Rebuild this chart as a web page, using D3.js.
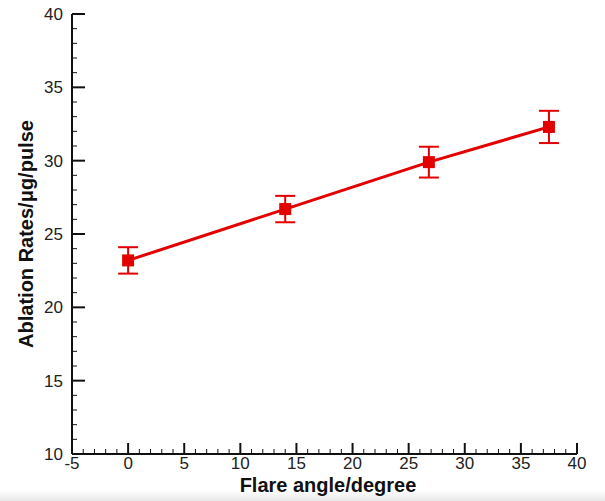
<!DOCTYPE html>
<html>
<head>
<meta charset="utf-8">
<script src="https://cdn.jsdelivr.net/npm/d3@7"></script>
<style>
  body { margin: 0; background: #fff; }
  svg { display: block; }
</style>
</head>
<body>
<svg id="chart" width="605" height="501"></svg>
<script>
// data
const flareAngle = [0, 14, 26.8, 37.5];
const ablationRate = [23.2, 26.7, 29.9, 32.3];
const rateError = [0.9, 0.9, 1.05, 1.1];
const xTicks = [-5, 0, 5, 10, 15, 20, 25, 30, 35, 40];
const yTicks = [10, 15, 20, 25, 30, 35, 40];

const svg = d3.select("#chart");
const red = "#e20000";

// faint grey band at the very bottom of the screenshot
const grad = svg.append("defs").append("linearGradient")
    .attr("id", "fade").attr("x1", 0).attr("y1", 0).attr("x2", 0).attr("y2", 1);
grad.append("stop").attr("offset", "0%").attr("stop-color", "#ffffff");
grad.append("stop").attr("offset", "100%").attr("stop-color", "#e8e8e8");
svg.append("rect").attr("x", 0).attr("y", 490).attr("width", 605).attr("height", 11)
    .attr("fill", "url(#fade)");

const x = d3.scaleLinear().domain([-5, 40]).range([72, 577]);
const y = d3.scaleLinear().domain([10, 40]).range([454, 14]);

// minor ticks every 1 unit
const xMinor = d3.range(-5, 41, 1).filter(v => v % 5 !== 0);
const yMinor = d3.range(10, 41, 1).filter(v => v % 5 !== 0);

const axes = svg.append("g").attr("stroke", "#111");

axes.selectAll("line.xminor").data(xMinor).enter().append("line")
    .attr("x1", d => x(d)).attr("x2", d => x(d))
    .attr("y1", y(10)).attr("y2", y(10) - 5).attr("stroke-width", 1);
axes.selectAll("line.xmajor").data(xTicks).enter().append("line")
    .attr("x1", d => x(d)).attr("x2", d => x(d))
    .attr("y1", y(10)).attr("y2", y(10) - 11).attr("stroke-width", 2);
axes.selectAll("line.yminor").data(yMinor).enter().append("line")
    .attr("y1", d => y(d)).attr("y2", d => y(d))
    .attr("x1", x(-5)).attr("x2", x(-5) + 5).attr("stroke-width", 1);
axes.selectAll("line.ymajor").data(yTicks).enter().append("line")
    .attr("y1", d => y(d)).attr("y2", d => y(d))
    .attr("x1", x(-5)).attr("x2", x(-5) + 13).attr("stroke-width", 2);

// axis lines
axes.append("line").attr("x1", x(-5)).attr("x2", x(40))
    .attr("y1", y(10)).attr("y2", y(10)).attr("stroke-width", 2);
axes.append("line").attr("x1", x(-5)).attr("x2", x(-5))
    .attr("y1", y(10)).attr("y2", y(40)).attr("stroke-width", 2);

// tick labels
svg.append("g").selectAll("text").data(xTicks).enter().append("text")
    .attr("x", d => x(d)).attr("y", 469)
    .attr("text-anchor", "middle")
    .attr("font-family", "Liberation Sans, Arial, sans-serif")
    .attr("font-size", 17).attr("fill", "#222")
    .text(d => d);
svg.append("g").selectAll("text").data(yTicks).enter().append("text")
    .attr("x", 63).attr("y", d => y(d) + 6)
    .attr("text-anchor", "end")
    .attr("font-family", "Liberation Sans, Arial, sans-serif")
    .attr("font-size", 17).attr("fill", "#222")
    .text(d => d);

// axis titles
svg.append("text")
    .attr("x", 328).attr("y", 492)
    .attr("text-anchor", "middle")
    .attr("font-family", "Liberation Sans, Arial, sans-serif")
    .attr("font-size", 20).attr("font-weight", "bold").attr("fill", "#111")
    .text("Flare angle/degree");
svg.append("text")
    .attr("transform", "translate(33,234) rotate(-90)")
    .attr("text-anchor", "middle")
    .attr("font-family", "Liberation Sans, Arial, sans-serif")
    .attr("font-size", 20).attr("font-weight", "bold").attr("fill", "#111")
    .text("Ablation Rates/\u03bcg/pulse");

// series
const points = flareAngle.map((a, i) => ({ a: a, r: ablationRate[i], e: rateError[i] }));

svg.append("path").datum(points)
    .attr("fill", "none").attr("stroke", red).attr("stroke-width", 3)
    .attr("d", d3.line().x(d => x(d.a)).y(d => y(d.r)));

const bars = svg.append("g").attr("stroke", red).attr("stroke-width", 2);
bars.selectAll("line.v").data(points).enter().append("line")
    .attr("x1", d => x(d.a)).attr("x2", d => x(d.a))
    .attr("y1", d => y(d.r - d.e)).attr("y2", d => y(d.r + d.e));
bars.selectAll("line.top").data(points).enter().append("line")
    .attr("x1", d => x(d.a) - 10).attr("x2", d => x(d.a) + 10)
    .attr("y1", d => y(d.r + d.e)).attr("y2", d => y(d.r + d.e));
bars.selectAll("line.bot").data(points).enter().append("line")
    .attr("x1", d => x(d.a) - 10).attr("x2", d => x(d.a) + 10)
    .attr("y1", d => y(d.r - d.e)).attr("y2", d => y(d.r - d.e));

svg.append("g").selectAll("rect").data(points).enter().append("rect")
    .attr("x", d => x(d.a) - 6).attr("y", d => y(d.r) - 6)
    .attr("width", 12).attr("height", 12)
    .attr("fill", red);
</script>
</body>
</html>
